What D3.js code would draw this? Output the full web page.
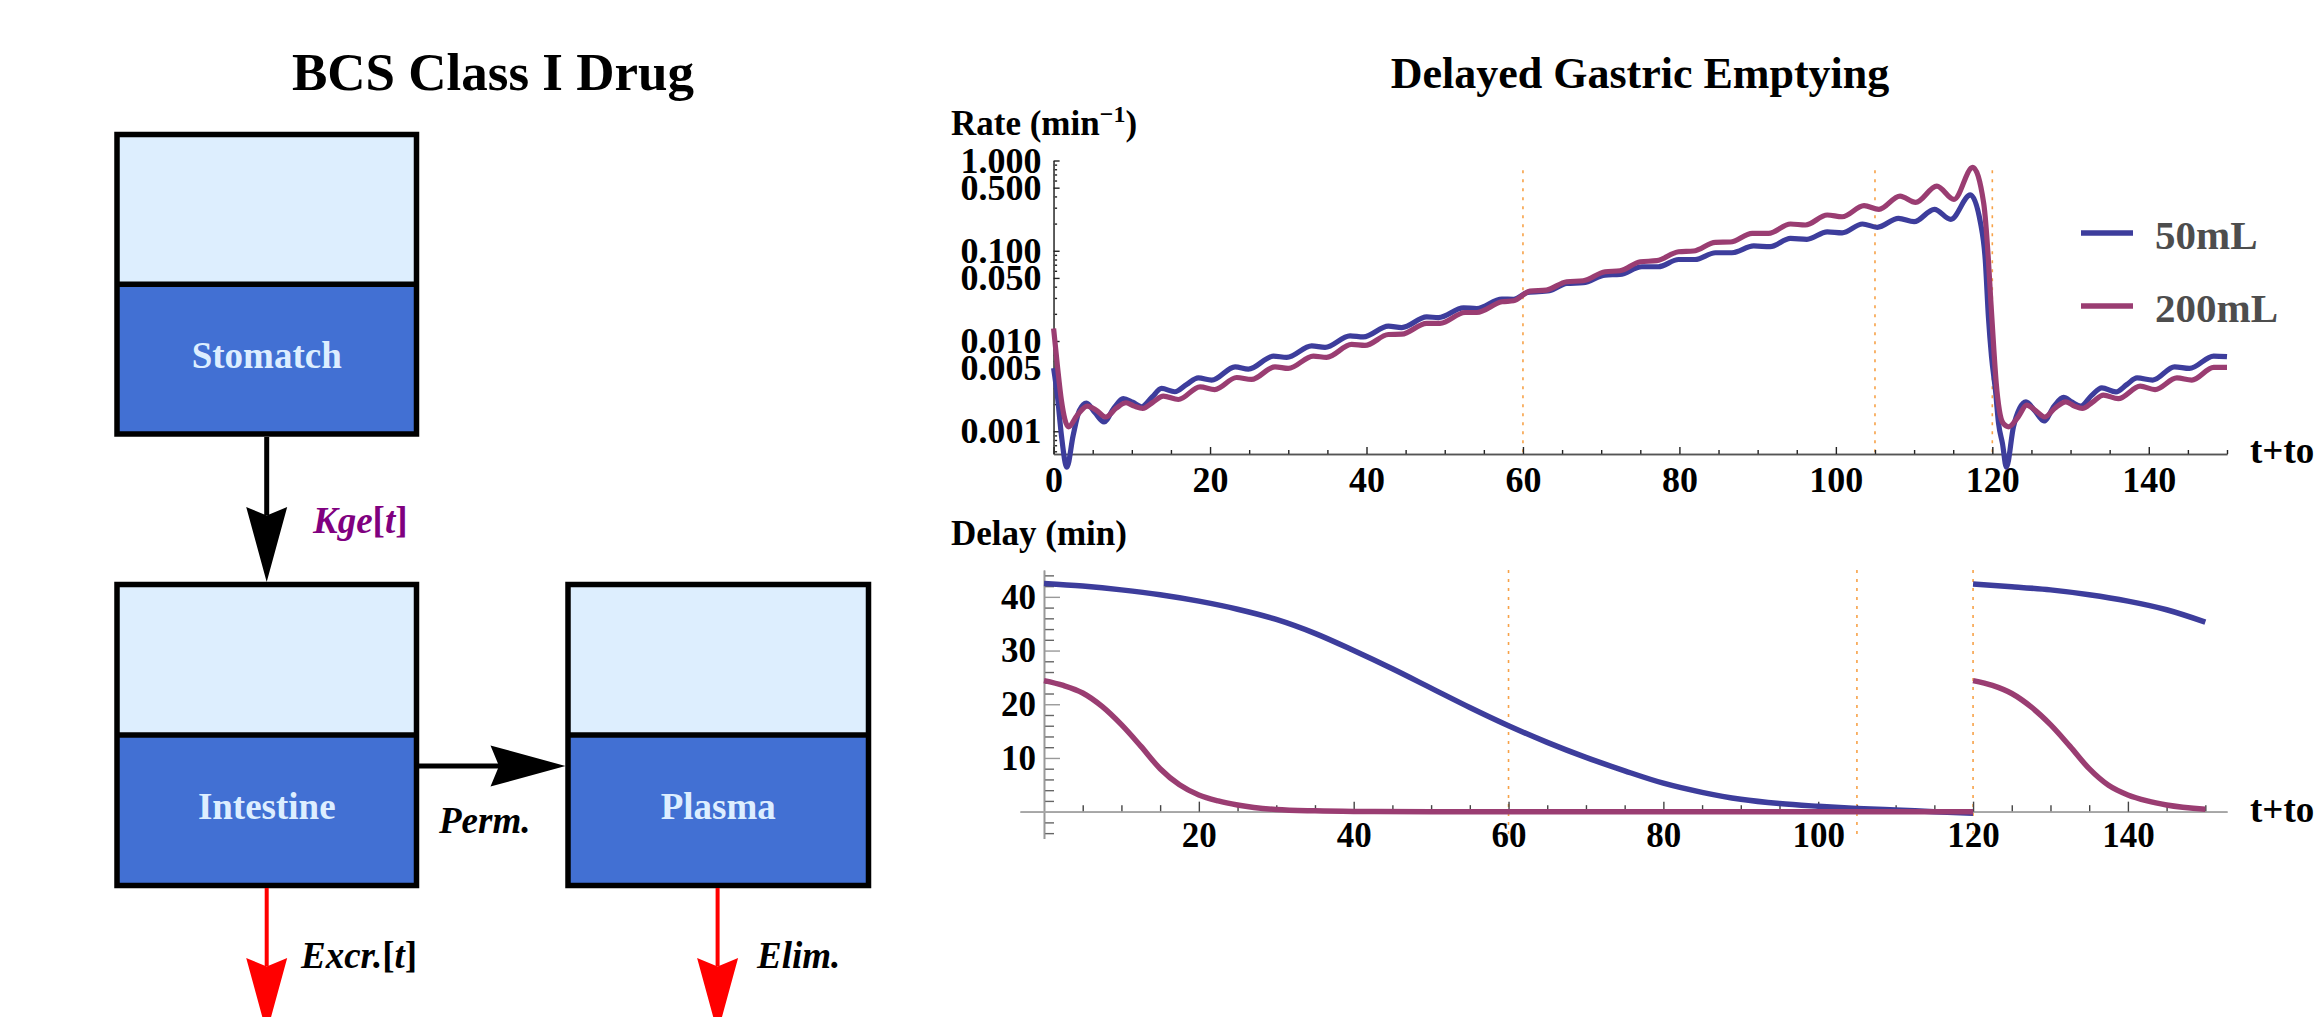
<!DOCTYPE html>
<html>
<head>
<meta charset="utf-8">
<script src="https://cdn.jsdelivr.net/npm/d3@7"></script>
<style>
  body { margin: 0; background: #fff; }
  svg text { font-family: "Liberation Serif", "Times New Roman", serif; font-weight: bold; }
</style>
</head>
<body>
<svg id="chart" width="2323" height="1017"></svg>
<script>
// ---- data ----
const seriesNames = ["50mL", "200mL"];
const seriesColors = ["#3d3d9c", "#9a3d72"];

// gastric emptying rate (1/min) against t+to
const rate50mL = [
  [0, 0.0050], [0.5, 0.0024], [1.0, 0.0009], [1.7, 0.0004], [2.5, 0.0009], [3.3, 0.0017],
  [4.2, 0.00205], [5.3, 0.0016], [6.45, 0.00127], [7.7, 0.0018], [8.9, 0.0023], [10.1, 0.0021],
  [11.26, 0.00187], [12.6, 0.0024], [13.8, 0.00298], [15.5, 0.00274], [17.0, 0.0033], [18.5, 0.0039],
  [20.2, 0.00369], [23.2, 0.00518], [24.9, 0.00488], [28.1, 0.0068], [29.8, 0.0066], [33.0, 0.00885],
  [34.7, 0.0085], [37.9, 0.0114], [39.6, 0.0111], [42.8, 0.0146], [44.5, 0.0141], [47.7, 0.0185],
  [49.2, 0.0182], [52.4, 0.0233], [54.1, 0.0229], [57.3, 0.0292], [58.8, 0.0290], [60.6, 0.0345],
  [63.4, 0.0360], [65.6, 0.0435], [67.7, 0.0442], [70.5, 0.0538], [72.4, 0.0547], [75.2, 0.0665],
  [77.3, 0.0665], [79.9, 0.080], [82.0, 0.080], [84.6, 0.095], [86.7, 0.095], [89.5, 0.113],
  [91.6, 0.111], [94.2, 0.137], [96.3, 0.134], [98.9, 0.162], [100.8, 0.158], [103.4, 0.198],
  [105.3, 0.182], [108.0, 0.229], [110.0, 0.21], [112.6, 0.288], [114.7, 0.223], [117.2, 0.415],
  [118.5, 0.201], [119.1, 0.0788], [119.5, 0.0185], [119.9, 0.0067], [120.4, 0.00286], [120.8, 0.00122],
  [121.3, 0.00073], [121.8, 0.0004], [122.7, 0.00112], [123.5, 0.0018], [124.3, 0.00212], [125.4, 0.0017],
  [126.6, 0.0013], [127.9, 0.0019], [129.1, 0.00237], [130.2, 0.0021], [131.3, 0.0019], [132.7, 0.0025],
  [134.0, 0.00303], [135.8, 0.00273], [137.2, 0.0033], [138.5, 0.0039], [140.5, 0.00369], [143.3, 0.00518],
  [145.2, 0.00497], [148.3, 0.0068], [150.0, 0.0067]
];
const rate200mL = [
  [0, 0.0138], [0.5, 0.0052], [1.0, 0.0022], [1.9, 0.00112], [3.0, 0.0015], [4.3, 0.0019],
  [5.5, 0.0017], [6.66, 0.00144], [8.0, 0.0018], [9.26, 0.00207], [10.3, 0.0019], [11.39, 0.00179],
  [12.7, 0.0021], [14.03, 0.00245], [15.95, 0.00225], [18.72, 0.00311], [20.6, 0.0029], [23.4, 0.00394],
  [25.3, 0.00375], [28.3, 0.00518], [30.0, 0.00497], [33.2, 0.0068], [34.9, 0.0066], [38.1, 0.00916],
  [39.8, 0.00893], [42.8, 0.0118], [44.5, 0.0119], [47.7, 0.0157], [49.4, 0.0157], [52.6, 0.0207],
  [54.1, 0.0207], [57.3, 0.0272], [58.8, 0.0279], [60.9, 0.0357], [63.0, 0.0367], [65.6, 0.0454],
  [67.7, 0.0465], [70.5, 0.0586], [72.4, 0.060], [75.0, 0.0755], [77.1, 0.0776], [79.9, 0.0975],
  [81.8, 0.0993], [84.6, 0.124], [86.5, 0.125], [89.3, 0.156], [91.4, 0.156], [94.2, 0.198],
  [96.1, 0.193], [98.9, 0.249], [100.8, 0.238], [103.6, 0.316], [105.5, 0.288], [108.2, 0.404],
  [110.2, 0.344], [112.9, 0.521], [115.1, 0.371], [117.5, 0.84], [118.9, 0.335], [119.5, 0.0788],
  [119.8, 0.0284], [120.2, 0.0079], [120.5, 0.0034], [120.9, 0.00171], [121.4, 0.00122], [122.1, 0.00112],
  [123.3, 0.00144], [124.4, 0.00195], [125.5, 0.0017], [126.7, 0.00144], [128.0, 0.0018], [129.4, 0.00212],
  [130.5, 0.0019], [131.5, 0.00179], [132.8, 0.0021], [134.2, 0.00251], [136.1, 0.0023], [138.9, 0.00316],
  [140.8, 0.0029], [143.6, 0.0039], [145.5, 0.00369], [148.3, 0.0051], [150.0, 0.0051]
];

// delay (min) against t+to, two pieces each (reset at 120)
const delay50mLA = [
  [0, 42.5], [5, 42.0], [10, 41.3], [15, 40.4], [20, 39.2], [25, 37.7], [30, 35.8], [35, 33.2],
  [40, 30.0], [45, 26.6], [50, 23.0], [55, 19.4], [60, 16.0], [65, 12.9], [70, 10.1], [75, 7.6],
  [80, 5.3], [85, 3.6], [90, 2.3], [95, 1.5], [100, 1.0], [105, 0.6], [110, 0.3], [115, 0.0], [120, -0.3]
];
const delay50mLB = [[120, 42.4], [125, 41.9], [130, 41.3], [135, 40.4], [140, 39.2], [145, 37.6], [150, 35.3]];
const delay200mLA = [
  [0, 24.4], [2.5, 23.5], [5, 22.1], [7.5, 19.6], [10, 16.2], [12.5, 12.2], [15, 8.0], [17.5, 5.0],
  [20, 3.1], [22.5, 2.0], [25, 1.25], [30, 0.4], [35, 0.15], [40, 0.05], [50, 0], [120, 0]
];
const delay200mLB = [
  [120, 24.4], [122.5, 23.5], [125, 22.0], [127.5, 19.5], [130, 16.2], [132.5, 12.2], [135, 8.0],
  [137.5, 4.9], [140, 3.1], [142.5, 2.0], [145, 1.25], [150, 0.45]
];

const markTimes = [60, 105, 120];
const rateTicks = [0.001, 0.005, 0.01, 0.05, 0.1, 0.5, 1];
const timeTicks = [0, 20, 40, 60, 80, 100, 120, 140];
const delayTicks = [10, 20, 30, 40];
const delayTimeTicks = [20, 40, 60, 80, 100, 120, 140];

const compartments = ["Stomatch", "Intestine", "Plasma"];

// ---- setup ----
const svg = d3.select("#chart");
svg.append("rect").attr("width", 2323).attr("height", 1017).attr("fill", "#fff");

// ================= left: compartment diagram =================
const diag = svg.append("g");

diag.append("text").attr("x", 493).attr("y", 90).attr("text-anchor", "middle")
  .attr("font-size", 53).text("BCS Class I Drug");

function drawBox(x, y, w, h, label) {
  var g = diag.append("g");
  var mid = y + h / 2;
  g.append("rect").attr("x", x).attr("y", y).attr("width", w).attr("height", mid - y).attr("fill", "#ddeefe");
  g.append("rect").attr("x", x).attr("y", mid).attr("width", w).attr("height", y + h - mid).attr("fill", "#4270d3");
  g.append("rect").attr("x", x).attr("y", y).attr("width", w).attr("height", h)
    .attr("fill", "none").attr("stroke", "#000").attr("stroke-width", 5.5);
  g.append("line").attr("x1", x).attr("x2", x + w).attr("y1", mid).attr("y2", mid)
    .attr("stroke", "#000").attr("stroke-width", 5.5);
  g.append("text").attr("x", x + w / 2).attr("y", mid + 84).attr("text-anchor", "middle")
    .attr("font-size", 37).attr("fill", "#ddeeff").text(label);
}

drawBox(117, 134.5, 299.5, 299.5, compartments[0]);
drawBox(117, 584.5, 299.5, 301, compartments[1]);
drawBox(568, 584.5, 300.5, 301, compartments[2]);

function arrow(x1, y1, x2, y2, color, width) {
  var L = 75, W = 20.5, N = 8.5;
  var dx = x2 - x1, dy = y2 - y1, len = Math.sqrt(dx * dx + dy * dy);
  var ux = dx / len, uy = dy / len, px = -uy, py = ux;
  var bx = x2 - L * ux, by = y2 - L * uy;
  var nx = x2 - (L - N) * ux, ny = y2 - (L - N) * uy;
  diag.append("line").attr("x1", x1).attr("y1", y1).attr("x2", nx).attr("y2", ny)
    .attr("stroke", color).attr("stroke-width", width);
  diag.append("path")
    .attr("d", "M" + x2 + "," + y2 + "L" + (bx + W * px) + "," + (by + W * py) +
      "L" + nx + "," + ny + "L" + (bx - W * px) + "," + (by - W * py) + "Z")
    .attr("fill", color);
}

arrow(266.7, 437, 266.7, 582, "#000", 5);
arrow(419, 766, 565.5, 766, "#000", 5);
arrow(266.7, 888, 266.7, 1033, "#ff0000", 4);
arrow(717.6, 888, 717.6, 1033, "#ff0000", 4);

function flowLabel(x, y, parts, color) {
  var t = diag.append("text").attr("x", x).attr("y", y).attr("font-size", 37).attr("fill", color);
  parts.forEach(function(p) {
    t.append("tspan").attr("font-style", p[1] ? "italic" : "normal").text(p[0]);
  });
}
flowLabel(313, 533, [["Kge", 1], ["[", 0], ["t", 1], ["]", 0]], "#800080");
flowLabel(439, 833, [["Perm.", 1]], "#000");
flowLabel(301, 968, [["Excr.", 1], ["[", 0], ["t", 1], ["]", 0]], "#000");
flowLabel(757, 968, [["Elim.", 1]], "#000");

// ================= right: plots =================
svg.append("text").attr("x", 1640).attr("y", 88).attr("text-anchor", "middle")
  .attr("font-size", 44).text("Delayed Gastric Emptying");

function styleAxis(g, domainColor, tickColor, fontSize) {
  g.attr("font-family", null).attr("font-size", null);
  g.select(".domain").attr("stroke", domainColor).attr("stroke-width", 1.6);
  g.selectAll(".tick line").attr("stroke", tickColor).attr("stroke-width", 1.4);
  g.selectAll(".tick text").attr("font-size", fontSize).attr("fill", "#000")
    .style("font-family", '"Liberation Serif", serif').style("font-weight", "bold");
}

function isMajor(v, majors) {
  return majors.some(function(m) { return Math.abs(m - v) < 1e-9 * Math.max(1, m) || Math.abs(Math.log10(m) - Math.log10(v)) < 1e-6; });
}

// ---- top: rate (log) ----
const xRate = d3.scaleLinear().domain([0, 150]).range([1053.6, 2227]);
const yRate = d3.scaleLog().domain([0.00056, 1]).range([454, 160.5]);

svg.append("clipPath").attr("id", "clipTop").append("rect")
  .attr("x", 1040).attr("y", 100).attr("width", 1200).attr("height", 456);

svg.append("g").selectAll("line").data(markTimes).enter().append("line")
  .attr("x1", d => xRate(d)).attr("x2", d => xRate(d))
  .attr("y1", yRate(0.78)).attr("y2", yRate.range()[0])
  .attr("stroke", "#f7a248").attr("stroke-width", 1.6).attr("stroke-dasharray", "3,6");

const minorRate = yRate.ticks().filter(v => !rateTicks.some(m => Math.abs(m - v) / m < 1e-6));
styleAxis(svg.append("g").attr("transform", "translate(" + xRate.range()[0] + ",0)")
  .call(d3.axisLeft(yRate).tickValues(minorRate).tickSize(-3.5).tickSizeOuter(0).tickFormat("")), "#555", "#222", 36);
styleAxis(svg.append("g").attr("transform", "translate(" + xRate.range()[0] + ",0)")
  .call(d3.axisLeft(yRate).tickValues(rateTicks).tickSize(-6).tickSizeOuter(0).tickPadding(12)
    .tickFormat(d3.format(".3f"))), "#555", "#222", 36);

const minorTime = d3.range(5, 151, 5).filter(v => v % 20 !== 0);
styleAxis(svg.append("g").attr("transform", "translate(0," + yRate.range()[0] + ")")
  .call(d3.axisBottom(xRate).tickValues(minorTime).tickSize(-4).tickSizeOuter(0).tickFormat("")), "#555", "#222", 36);
styleAxis(svg.append("g").attr("transform", "translate(0," + yRate.range()[0] + ")")
  .call(d3.axisBottom(xRate).tickValues(timeTicks).tickSize(-7).tickSizeOuter(0).tickPadding(12)), "#555", "#222", 36);

const rateLine = d3.line().x(d => xRate(d[0])).y(d => yRate(d[1])).curve(d3.curveMonotoneX);
[rate50mL, rate200mL].forEach(function(s, i) {
  svg.append("path").attr("d", rateLine(s)).attr("clip-path", "url(#clipTop)")
    .attr("fill", "none").attr("stroke", seriesColors[i]).attr("stroke-width", 5.2)
    .attr("stroke-linejoin", "round").attr("stroke-linecap", "butt");
});

var rl = svg.append("text").attr("x", 951).attr("y", 135).attr("font-size", 35);
rl.append("tspan").text("Rate (min");
rl.append("tspan").attr("font-size", 24).attr("dy", -13).text("\u22121");
rl.append("tspan").attr("dy", 13).text(")");

svg.append("text").attr("x", 2250).attr("y", 463).attr("font-size", 37).text("t+to");

// legend
seriesNames.forEach(function(n, i) {
  var ly = 233 + i * 73;
  svg.append("line").attr("x1", 2081).attr("x2", 2133).attr("y1", ly).attr("y2", ly)
    .attr("stroke", seriesColors[i]).attr("stroke-width", 5.5);
  svg.append("text").attr("x", 2155).attr("y", ly + 16).attr("font-size", 41).attr("fill", "#4d4d4d").text(n);
});

// ---- bottom: delay ----
const xDelay = d3.scaleLinear().domain([-3.1, 152.8]).range([1020, 2227]);
const yDelay = d3.scaleLinear().domain([-5, 45]).range([838.5, 570]);

svg.append("g").selectAll("line").data(markTimes).enter().append("line")
  .attr("x1", d => xDelay(d)).attr("x2", d => xDelay(d))
  .attr("y1", yDelay.range()[1]).attr("y2", yDelay.range()[0])
  .attr("stroke", "#f7a248").attr("stroke-width", 1.6).attr("stroke-dasharray", "3,6");

const minorDelay = d3.range(-4, 45, 2).filter(v => v % 10 !== 0);
styleAxis(svg.append("g").attr("transform", "translate(" + xDelay(0) + ",0)")
  .call(d3.axisLeft(yDelay).tickValues(minorDelay).tickSize(-10).tickSizeOuter(0).tickFormat("")), "#999", "#666", 35);
styleAxis(svg.append("g").attr("transform", "translate(" + xDelay(0) + ",0)")
  .call(d3.axisLeft(yDelay).tickValues(delayTicks).tickSize(-16).tickSizeOuter(0).tickPadding(8)), "#999", "#999", 35);

const minorDelayTime = d3.range(5, 151, 5).filter(v => v % 20 !== 0);
styleAxis(svg.append("g").attr("transform", "translate(0," + yDelay(0) + ")")
  .call(d3.axisBottom(xDelay).tickValues(minorDelayTime).tickSize(-6.5).tickSizeOuter(0).tickFormat("")), "#a6a6a6", "#444", 35);
styleAxis(svg.append("g").attr("transform", "translate(0," + yDelay(0) + ")")
  .call(d3.axisBottom(xDelay).tickValues(delayTimeTicks).tickSize(-10).tickSizeOuter(0).tickPadding(11)), "#a6a6a6", "#444", 35);

const delayLine = d3.line().x(d => xDelay(d[0])).y(d => yDelay(d[1])).curve(d3.curveMonotoneX);
[[delay50mLA, 0], [delay50mLB, 0], [delay200mLA, 1], [delay200mLB, 1]].forEach(function(p) {
  svg.append("path").attr("d", delayLine(p[0]))
    .attr("fill", "none").attr("stroke", seriesColors[p[1]]).attr("stroke-width", 5.5);
});

svg.append("text").attr("x", 951).attr("y", 545).attr("font-size", 35).text("Delay (min)");
svg.append("text").attr("x", 2250).attr("y", 822).attr("font-size", 37).text("t+to");
</script>
</body>
</html>
